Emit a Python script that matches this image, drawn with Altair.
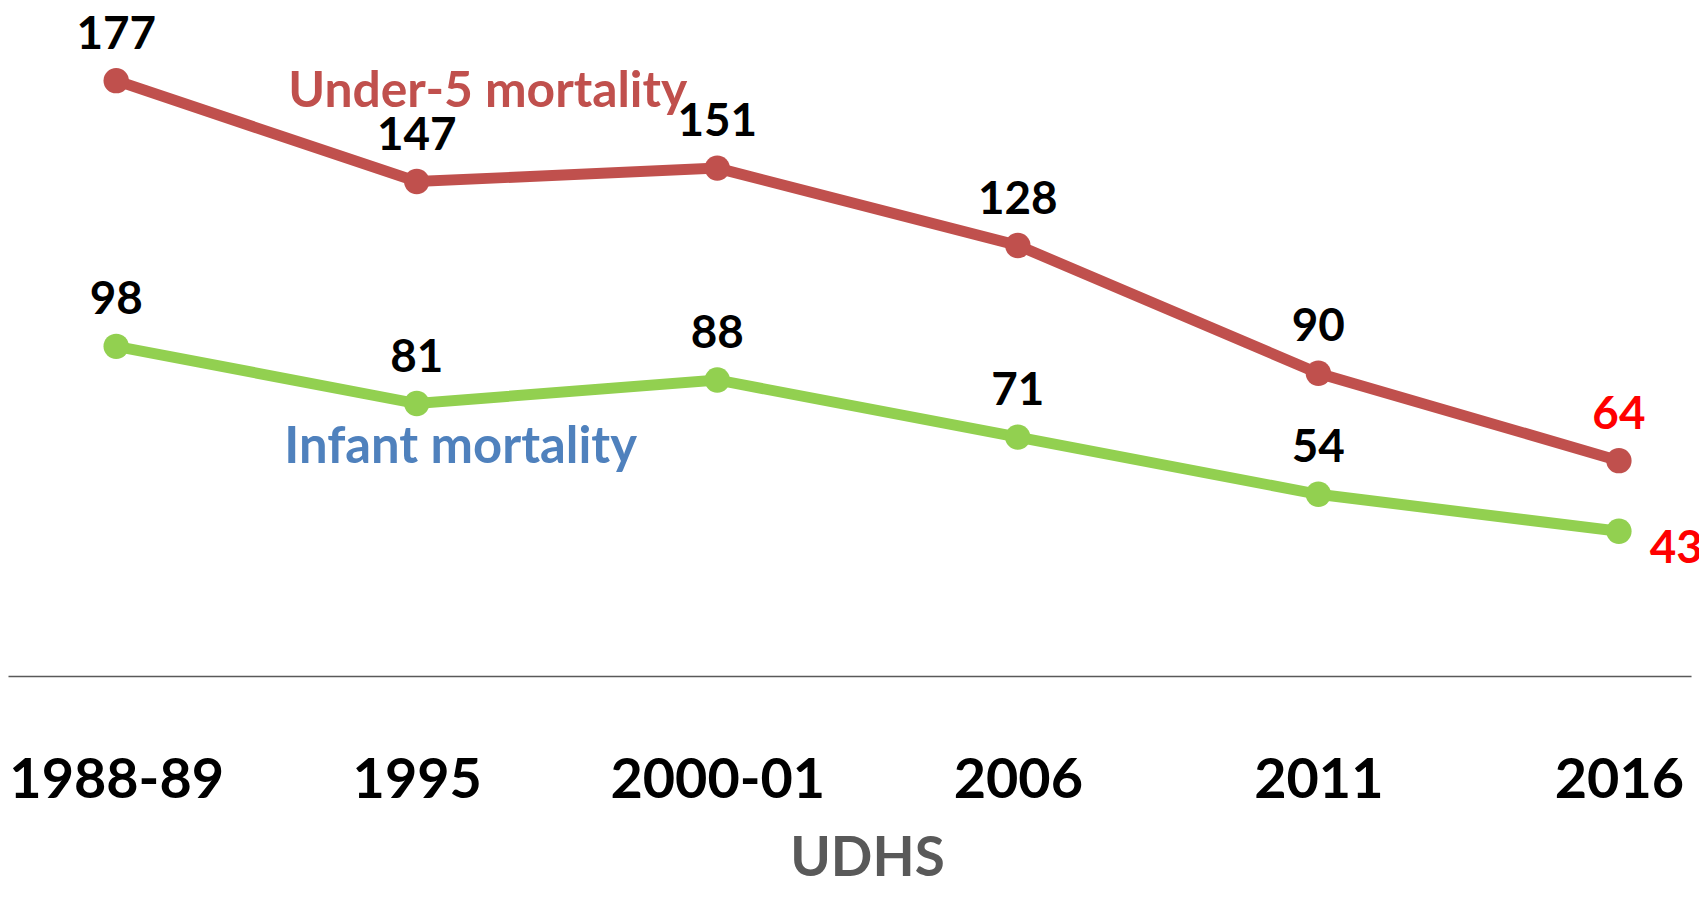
import altair as alt
import pandas as pd

periods = ["1988-89", "1995", "2000-01", "2006", "2011", "2016"]
under5 = [177, 147, 151, 128, 90, 64]
infant = [98, 81, 88, 71, 54, 43]
series_names = ["Under-5 mortality", "Infant mortality"]

rows = []
for p, u, i in zip(periods, under5, infant):
    rows.append({"period": p, "series": series_names[0], "value": u})
    rows.append({"period": p, "series": series_names[1], "value": i})
df = pd.DataFrame(rows)

FONT = "Lato"

x = alt.X(
    "period:N",
    sort=periods,
    scale=alt.Scale(type="point", padding=0.30, align=0.6),
    axis=alt.Axis(
        title="UDHS",
        labelAngle=0,
        domain=True,
        domainColor="#595959",
        domainWidth=1.5,
        ticks=False,
        tickSize=0,
        grid=False,
        labelFont=FONT,
        labelFontWeight="bold",
        labelFontSize=56,
        labelColor="black",
        labelBaseline="alphabetic",
        labelPadding=122,
        labelOverlap=False,
        labelLimit=0,
        titleFont=FONT,
        titleFontWeight="bold",
        titleFontSize=55,
        titleColor="#595959",
        titleBaseline="alphabetic",
        titleAlign="center",
        titleY=201,
        titleX=863,
    ),
)
y = alt.Y("value:Q", scale=alt.Scale(domain=[0, 198], nice=False, zero=True), axis=None)
color = alt.Color(
    "series:N",
    scale=alt.Scale(domain=series_names, range=["#C0504D", "#92D050"]),
    legend=None,
)

base = alt.Chart(df)

lines = base.mark_line(strokeWidth=11).encode(x=x, y=y, color=color, detail="series:N")
points = base.mark_circle(size=650, opacity=1).encode(x=x, y=y, color=color)

labels = (
    base.transform_filter(
        ~((alt.datum.period == "2016") & (alt.datum.series == "Infant mortality"))
    )
    .mark_text(font=FONT, fontWeight="bold", fontSize=46, baseline="alphabetic", align="center", dy=-32)
    .encode(
        x=x,
        y=y,
        text="value:Q",
        color=alt.condition(alt.datum.period == "2016", alt.value("#FF0000"), alt.value("black")),
    )
)

last_infant = (
    base.transform_filter((alt.datum.period == "2016") & (alt.datum.series == "Infant mortality"))
    .mark_text(font=FONT, fontWeight="bold", fontSize=46, baseline="alphabetic", align="left",
               dx=31, dy=32, color="#FF0000")
    .encode(x=x, y=y, text="value:Q")
)

ann_u5 = (
    base.transform_filter((alt.datum.period == "1995") & (alt.datum.series == "Under-5 mortality"))
    .mark_text(font=FONT, fontWeight="bold", fontSize=50, baseline="alphabetic", align="left",
               dx=-129, dy=-75, color="#C0504D")
    .encode(x=x, y=y, text="series:N")
)

ann_inf = (
    base.transform_filter((alt.datum.period == "1995") & (alt.datum.series == "Infant mortality"))
    .mark_text(font=FONT, fontWeight="bold", fontSize=51, baseline="alphabetic", align="left",
               dx=-133, dy=60, color="#4F81BD")
    .encode(x=x, y=y, text="series:N")
)

chart = (
    alt.layer(lines, points, labels, last_infant, ann_u5, ann_inf)
    .properties(
        width=1691,
        height=669,
        autosize=alt.AutoSizeParams(type="none"),
        padding={"left": 0, "top": 0, "right": 8, "bottom": 203},
        background="white",
    )
    .configure_view(stroke=None)
)

chart.save("out.html", embed_options={"renderer": "svg", "actions": False})
